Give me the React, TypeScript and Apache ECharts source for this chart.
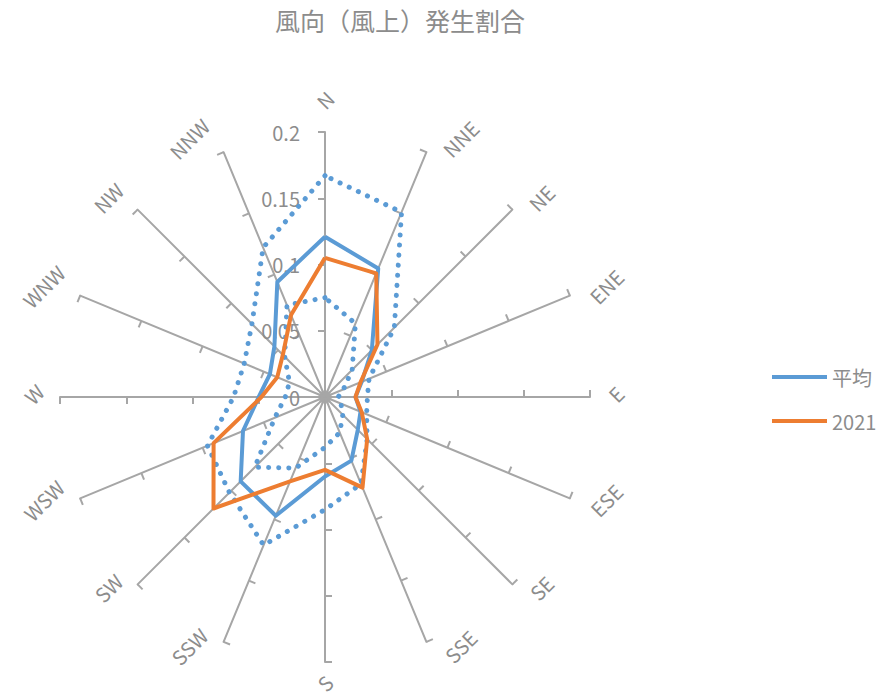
import React, { useEffect, useRef } from "react";
import * as echarts from "echarts";

// Directions in compass order (clockwise from north)
const directions = ["N", "NNE", "NE", "ENE", "E", "ESE", "SE", "SSE", "S", "SSW", "SW", "WSW", "W", "WNW", "NW", "NNW"];
// 平均 (average share by direction)
const average = [0.121, 0.105, 0.05, 0.03, 0.023, 0.029, 0.035, 0.052, 0.06, 0.097, 0.09, 0.067, 0.05, 0.045, 0.054, 0.094];
// 2021
const year2021 = [0.105, 0.101, 0.056, 0.029, 0.023, 0.03, 0.045, 0.074, 0.055, 0.069, 0.119, 0.091, 0.048, 0.039, 0.045, 0.067];
// dotted outer band
const upperBound = [0.167, 0.151, 0.074, 0.036, 0.032, 0.034, 0.045, 0.071, 0.085, 0.121, 0.102, 0.096, 0.069, 0.066, 0.078, 0.122];
// dotted inner band
const lowerBound = [0.075, 0.06, 0.029, 0.015, 0.01, 0.013, 0.019, 0.029, 0.038, 0.058, 0.075, 0.041, 0.03, 0.029, 0.043, 0.075];

const axisMin = 0;
const axisMax = 0.2;
const splitCount = 4; // 0, 0.05, 0.1, 0.15, 0.2

const legendNames = ["平均", "2021"];
const titleText = "風向（風上）発生割合";

const FONT = "'Noto Sans CJK JP', 'Noto Sans', sans-serif";
const TEXT = "#8c8c8c";
const GRID = "#a6a6a6";
const BLUE = "#5B9BD5";
const ORANGE = "#ED7D31";

// Excel-like placement of the rotated direction names: mostly offset sideways from the spoke end
function nameLayout(angleDeg: number, len: number) {
  const rad = (angleDeg * Math.PI) / 180;
  const s = Math.sin(rad);
  const c = Math.cos(rad);
  let dx: number;
  let dy: number;
  if (Math.abs(s) < 1e-6) {
    dx = 0;
    dy = c > 0 ? -32 : 21;
  } else {
    dx = Math.sign(s) * (20 + 6 * len - 4 * Math.abs(c));
    dy = c > 0.01 ? -6 - 8 * c : c < -0.01 ? -5 * c : -3;
  }
  // screen direction of the spoke
  const ux = s;
  const uy = -c;
  const gap = dx * ux + dy * uy;
  const rx = dx - gap * ux;
  const ry = dy - gap * uy;
  // residual expressed in the 45°-rotated text frame
  const k = Math.SQRT1_2;
  const lx = k * (rx - ry);
  const ly = k * (rx + ry);
  const padding = [ly > 0 ? 2 * ly : 0, lx < 0 ? -2 * lx : 0, ly < 0 ? -2 * ly : 0, lx > 0 ? 2 * lx : 0];
  return { gap, padding };
}

export default function App() {
  const ref = useRef<HTMLDivElement>(null);

  useEffect(() => {
    if (!ref.current) return;
    const chart = echarts.init(ref.current, undefined, { renderer: "svg" });

    // ECharts radar places indicators counter-clockwise; reorder so the compass runs clockwise
    const n = directions.length;
    const order = directions.map((_, k) => (n - k) % n);
    const pick = (arr: number[]) => order.map((i) => arr[i]);

    const indicator = order.map((i, k) => {
      const name = directions[i];
      const { gap, padding } = nameLayout((i * 360) / n, name.length);
      const base: any = {
        name,
        min: axisMin,
        max: axisMax,
        nameRotate: 45,
        nameGap: gap,
        nameTextStyle: {
          align: "center",
          verticalAlign: "middle",
          padding,
          rich: { d: { fontSize: 20, color: TEXT, fontFamily: FONT } },
        },
      };
      if (k === 0) base.axisLabel = { show: true };
      return base;
    });

    const lineItem = (name: string, arr: number[], color: string, dotted: boolean) => ({
      name,
      value: pick(arr),
      symbol: "none",
      itemStyle: { color },
      lineStyle: dotted
        ? { color, width: 5, type: [0.1, 10], cap: "round" }
        : { color, width: 4, type: "solid", join: "round" },
    });

    chart.setOption({
      animation: false,
      backgroundColor: "#ffffff",
      title: {
        text: titleText,
        left: 270,
        top: 2,
        textStyle: { fontSize: 25, fontWeight: "normal", color: TEXT, fontFamily: FONT },
      },
      legend: {
        data: legendNames,
        orient: "vertical",
        left: 767,
        top: 362,
        itemWidth: 55,
        itemHeight: 4,
        itemGap: 24,
        icon: "rect",
        textStyle: { fontSize: 20, color: TEXT, fontFamily: FONT },
      },
      radar: {
        center: [325, 397],
        radius: 265,
        startAngle: 90,
        splitNumber: splitCount,
        shape: "polygon",
        indicator,
        axisName: { color: TEXT, fontSize: 20, fontFamily: FONT },
        axisNameGap: 28,
        axisLine: { show: true, lineStyle: { color: GRID, width: 2 } },
        axisTick: { show: true, length: 7, lineStyle: { color: GRID, width: 2 } },
        axisLabel: { show: false, color: TEXT, fontSize: 20, fontFamily: FONT, margin: 25, showMinLabel: true, showMaxLabel: true },
        splitLine: { show: false },
        splitArea: { show: false },
      },
      series: [
        {
          type: "radar",
          data: [
            lineItem("上限", upperBound, BLUE, true),
            lineItem("下限", lowerBound, BLUE, true),
            lineItem(legendNames[0], average, BLUE, false),
            lineItem(legendNames[1], year2021, ORANGE, false),
          ],
        },
      ],
    });

    return () => chart.dispose();
  }, []);

  return <div ref={ref} style={{ position: "fixed", left: 0, top: 0, width: 883, height: 697 }} />;
}
